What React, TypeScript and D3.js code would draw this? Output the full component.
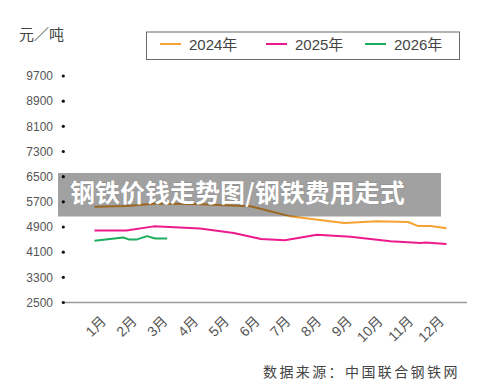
import React from "react";
import * as d3 from "d3";

const months = ["1月","2月","3月","4月","5月","6月","7月","8月","9月","10月","11月","12月"];
const yTicks = [2500, 3300, 4100, 4900, 5700, 6500, 7300, 8100, 8900, 9700];

const seriesNames = ["2024年", "2025年", "2026年"];
const seriesColors = ["#f5a233", "#ec1a8c", "#1cae5c"];

const s2024Month = [1, 2, 2.95, 4.3, 5.87, 7.1, 8.8, 9.83, 10.8, 11.1, 11.5, 12];
const s2024Value = [5540, 5570, 5650, 5620, 5560, 5245, 5030, 5080, 5060, 4935, 4935, 4860];

const s2025Month = [1, 2, 2.85, 4.3, 5.35, 6.2, 6.95, 7.95, 9.0, 10.25, 11.2, 11.35, 12];
const s2025Value = [4790, 4790, 4920, 4850, 4710, 4520, 4480, 4655, 4590, 4450, 4395, 4410, 4360];

const s2026Month = [1, 1.9, 2.07, 2.33, 2.64, 2.9, 3.27];
const s2026Value = [4460, 4567, 4505, 4505, 4610, 4535, 4535];

const bannerText = "钢铁价钱走势图/钢铁费用走式";
const unitText = "元／吨";
const sourceText = "数据来源：中国联合钢铁网";

export default function App() {
  const W = 500, H = 390;
  const y = d3.scaleLinear().domain([2500, 9700]).range([302.5, 76]);
  const x = d3.scaleLinear().domain([1, 12]).range([94.5, 446.5]);
  const xl = d3.scalePoint<string>().domain(months).range([107, 445]);
  const line = d3.line<[number, number]>().x(d => x(d[0])).y(d => y(d[1]));
  const series = [
    s2024Month.map((m, i) => [m, s2024Value[i]] as [number, number]),
    s2025Month.map((m, i) => [m, s2025Value[i]] as [number, number]),
    s2026Month.map((m, i) => [m, s2026Value[i]] as [number, number]),
  ];
  const legendX = [160, 266, 365];
  const font = "'Liberation Sans', Arial, 'Noto Sans CJK SC', sans-serif";
  return (
    <svg width={W} height={H} style={{ position: "absolute", left: 0, top: 0, background: "#fff" }} fontFamily={font}>
      <text x={19} y={40} fontSize={15} fill="#444" fontFamily="'Noto Sans CJK SC', sans-serif">{unitText}</text>
      <rect x={146.5} y={32} width={313} height={27.5} fill="none" stroke="#6a6a6a" strokeWidth={1} />
      {seriesNames.map((n, i) => (
        <g key={n}>
          <line x1={legendX[i]} x2={legendX[i] + 21} y1={44} y2={44} stroke={seriesColors[i]} strokeWidth={2} />
          <text x={legendX[i] + 29} y={50} fontSize={15} fill="#444">{n}</text>
        </g>
      ))}
      <line x1={63} x2={467} y1={y(2500)} y2={y(2500)} stroke="#9a9a9a" strokeWidth={1.5} />
      {yTicks.map(t => (
        <g key={t}>
          <circle cx={63.3} cy={y(t)} r={1.6} fill="#111" />
          <text x={53} y={y(t) + 4.3} fontSize={12} fill="#555" textAnchor="end">{t}</text>
        </g>
      ))}
      {months.map(m => (
        <text key={m} transform={`translate(${xl(m)},322) rotate(-45)`} fontSize={14} fill="#555" textAnchor="end">{m}</text>
      ))}
      {series.map((s, i) => (
        <path key={i} d={line(s) || ""} fill="none" stroke={seriesColors[i]} strokeWidth={2} strokeLinejoin="round" />
      ))}
      <rect x={58} y={173} width={383} height={43.5} fill="rgba(0,0,0,0.37)" />
      <text x={70} y={201.5} fontSize={25} fontWeight="bold" fill="#fff" fontFamily="'Noto Sans CJK SC', sans-serif" style={{ paintOrder: "stroke" }} stroke="rgba(0,0,0,0.15)" strokeWidth={1}>{bannerText}</text>
      <text x={263} y={377} fontSize={14} fill="#444" letterSpacing={2.4} fontFamily="'Noto Sans CJK SC', serif">{sourceText}</text>
    </svg>
  );
}
